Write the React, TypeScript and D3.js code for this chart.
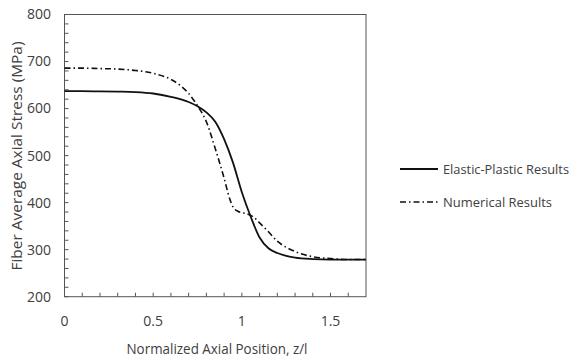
import React from "react";
import * as d3 from "d3";

const elasticZ = [0, 0.1, 0.2, 0.3, 0.4, 0.5, 0.6, 0.7, 0.75, 0.8, 0.85, 0.9, 0.95, 1.0, 1.05, 1.1, 1.15, 1.2, 1.25, 1.3, 1.4, 1.5, 1.6, 1.7];
const elasticV = [637, 637, 636.5, 636, 635, 632, 625, 614, 605, 592, 572, 535, 485, 422, 370, 326, 303, 293, 287, 283, 280, 279, 279, 279];

const numericalZ = [0, 0.1, 0.2, 0.3, 0.4, 0.5, 0.6, 0.65, 0.7, 0.75, 0.8, 0.85, 0.9, 0.93, 0.95, 0.98, 1.0, 1.03, 1.07, 1.1, 1.15, 1.2, 1.25, 1.3, 1.4, 1.5, 1.6, 1.7];
const numericalV = [686, 686, 685, 684, 681, 675, 662, 650, 632, 606, 572, 515, 452, 410, 391, 381, 379, 376, 368, 357, 338, 318, 305, 296, 285, 281, 279, 279];

const xTickLabels = [0, 0.5, 1, 1.5];
const yTickLabels = [200, 300, 400, 500, 600, 700, 800];

const seriesNames = ["Elastic-Plastic Results", "Numerical Results"];

const W = 575;
const H = 363;
const FONT = "'Open Sans', sans-serif";
const TXT = "#404040";
const AX = "#555";

export default function App() {
  const x = d3.scaleLinear().domain([0, 1.7]).range([64.5, 366]);
  const y = d3.scaleLinear().domain([200, 800]).range([296.7, 14.5]);

  const line = d3
    .line<[number, number]>()
    .x((d) => x(d[0]))
    .y((d) => y(d[1]))
    .curve(d3.curveMonotoneX);

  const elastic = elasticZ.map((z, i) => [z, elasticV[i]] as [number, number]);
  const numerical = numericalZ.map((z, i) => [z, numericalV[i]] as [number, number]);

  const xMinor = d3.range(0, 17).map((i) => i / 10);
  const yMinor = d3.range(200, 801, 20);

  const dashArr = "6,3,1.5,3";

  return (
    <svg width={W} height={H} style={{ position: "absolute", left: 0, top: 0, background: "#fff" }} fontFamily={FONT}>
      <rect x={0} y={0} width={W} height={H} fill="#fff" />
      <rect x={x(0)} y={y(800)} width={x(1.7) - x(0)} height={y(200) - y(800)} fill="none" stroke={AX} strokeWidth={1} />
      {xMinor.map((t, i) => (
        <line key={"xt" + i} x1={x(t)} x2={x(t)} y1={y(200)} y2={y(200) - 4} stroke={AX} strokeWidth={1} />
      ))}
      {yMinor.map((t, i) => (
        <line key={"yt" + i} x1={x(0)} x2={x(0) + 4} y1={y(t)} y2={y(t)} stroke={AX} strokeWidth={1} />
      ))}
      {xTickLabels.map((t) => (
        <text key={"xl" + t} x={x(t)} y={326} textAnchor="middle" fontSize={14} fill={TXT}>
          {t}
        </text>
      ))}
      {yTickLabels.map((t) => (
        <text key={"yl" + t} x={51} y={y(t)} dy="0.35em" textAnchor="end" fontSize={14} fill={TXT}>
          {t}
        </text>
      ))}
      <text x={217} y={354} textAnchor="middle" fontSize={14} fill={TXT} textLength={181} lengthAdjust="spacingAndGlyphs">
        Normalized Axial Position, z/l
      </text>
      <text
        transform={`translate(22,156) rotate(-90)`}
        textAnchor="middle"
        fontSize={14}
        fill={TXT}
        textLength={229}
        lengthAdjust="spacingAndGlyphs"
      >
        Fiber Average Axial Stress (MPa)
      </text>
      <path d={line(numerical) || ""} fill="none" stroke="#111" strokeWidth={1.6} strokeDasharray={dashArr} />
      <path d={line(elastic) || ""} fill="none" stroke="#111" strokeWidth={1.8} />
      <line x1={400} x2={438} y1={169} y2={169} stroke="#111" strokeWidth={1.8} />
      <text x={443} y={169} dy="0.35em" fontSize={13.5} fill={TXT} textLength={126} lengthAdjust="spacingAndGlyphs">
        {seriesNames[0]}
      </text>
      <line x1={400} x2={438} y1={202} y2={202} stroke="#111" strokeWidth={1.6} strokeDasharray={dashArr} />
      <text x={443} y={202} dy="0.35em" fontSize={13.5} fill={TXT} textLength={109} lengthAdjust="spacingAndGlyphs">
        {seriesNames[1]}
      </text>
    </svg>
  );
}
